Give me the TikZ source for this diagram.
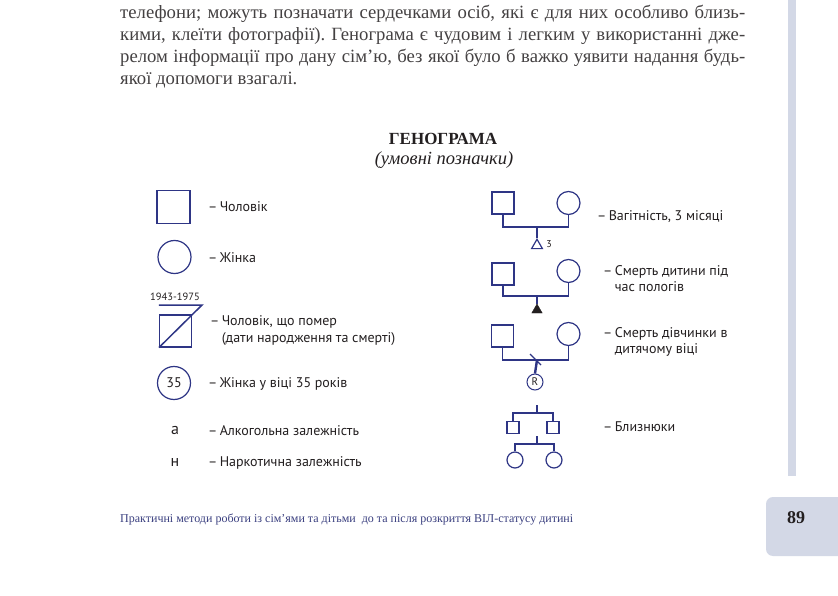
\documentclass[tikz,border=0pt]{standalone}
\usepackage{fontspec}
\setmainfont{Liberation Serif}
\setsansfont{PT Sans}
\usetikzlibrary{shapes.geometric}
\definecolor{navy}{HTML}{2E3585}
\definecolor{barblue}{HTML}{D3D8E6}
\definecolor{ink}{HTML}{231F20}
\definecolor{foot}{HTML}{3B4080}
\frenchspacing

\begin{document}
\begin{tikzpicture}[x=1pt, y=-1pt,
    man/.style={draw=navy, line width=1.2pt, minimum size=#1, inner sep=0pt},
    man/.default=22pt,
    woman/.style={circle, draw=navy, line width=1.2pt, minimum size=#1, inner sep=0pt},
    woman/.default=23pt,
    kin/.style={draw=navy, line width=1.2pt},
    child/.style={draw=navy, line width=2.4pt},
    lbl/.style={anchor=west, inner sep=0pt, text=ink, align=left,
        font=\sffamily\fontsize{14}{16.5}\selectfont},
    body/.style={anchor=west, inner sep=0pt, text=ink!85,
        font=\fontsize{18.7}{22}\selectfont}]
    \useasboundingbox (0,0) rectangle (838,596);
    \fill[white] (0,0) rectangle (838,596);

    % Page decoration
    \fill[barblue] (788,0) rectangle (796,476);
    \fill[barblue, rounded corners=7pt] (766,497) rectangle (860,556);
    \node[font=\bfseries\fontsize{18}{20}\selectfont, text=ink] (page) at (796,518) {89};
    \node[anchor=west, inner sep=0pt, text=foot, font=\fontsize{12}{14}\selectfont] (footer) at (120,519)
        {Практичні методи роботи із сім'ями та дітьми \ до та після розкриття ВІЛ-статусу дитині};

    % Paragraph
    \node[body] (line1) at (120,14) {\makebox[625pt][s]{телефони; можуть позначати сердечками осіб, які є для них особливо близь-}};
    \node[body] (line2) at (120,36) {\makebox[625pt][s]{кими, клеїти фотографії). Генограма є чудовим і легким у використанні дже-}};
    \node[body] (line3) at (120,58) {\makebox[625pt][s]{релом інформації про дану сім'ю, без якої було б важко уявити надання будь-}};
    \node[body] (line4) at (120,80) {якої допомоги взагалі.};

    % Title
    \node[text=ink, font=\bfseries\fontsize{17}{19}\selectfont] (title) at (443,139) {ГЕНОГРАМА};
    \node[text=ink, font=\itshape\fontsize{18.5}{20}\selectfont] (subtitle) at (444,160) {(умовні позначки)};

    % Left column
    \node[man=33pt] (m) at (173.5,207) {};
    \node[lbl] (lm) at (208,207) {–\,Чоловік};
    \node[woman=33pt] (w) at (174.5,257) {};
    \node[lbl] (lw) at (208,258) {–\,Жінка};

    \node[text=ink, font=\sffamily\fontsize{10.5}{11}\selectfont] (dates) at (175,297) {1943-1975};
    \node[man=32pt] (dm) at (175.5,331) {};
    \coordinate (dtop) at (202,305);
    \draw[navy, line width=1.5pt] (dm.west |- dtop) -- (dtop) -- (dm.south west);
    \node[lbl] (ldm) at (210,330.5) {–\,Чоловік, що помер\\\phantom{–\,}(дати народження та смерті)};

    \node[woman=33pt, text=ink, font=\sffamily\fontsize{14}{15}\selectfont] (w35) at (174,383) {35};
    \node[lbl] (lw35) at (208,384) {–\,Жінка у віці 35 років};

    \node[text=ink, font=\sffamily\fontsize{16}{17}\selectfont] (alc) at (175,430) {а};
    \node[lbl] (lalc) at (208,431) {–\,Алкогольна залежність};
    \node[text=ink, font=\sffamily\fontsize{16}{17}\selectfont] (nar) at (175,462) {н};
    \node[lbl] (lnar) at (208,463) {–\,Наркотична залежність};

    % Right column: pregnancy
    \node[man] (m1) at (503,203) {};
    \node[woman] (w1) at (568.5,203) {};
    \coordinate (b1) at (537,227);
    \draw[kin] (m1.south) |- (b1) -| (w1.south);
    \node[regular polygon, regular polygon sides=3, draw=navy, line width=1.2pt,
        minimum size=12.5pt, inner sep=0pt] (p1) at (537,245.5) {};
    \draw[child] (b1) -- (p1.corner 1);
    \node[text=ink, font=\sffamily\fontsize{10}{11}\selectfont] (n3) at (549,244) {3};
    \node[lbl] (l1) at (597,217) {–\,Вагітність, 3 місяці};

    % Right column: death at birth
    \node[man] (m2) at (503,274) {};
    \node[woman] (w2) at (568.5,271) {};
    \coordinate (b2) at (537,296);
    \draw[kin] (m2.south) |- (b2) -| (w2.south);
    \node[regular polygon, regular polygon sides=3, fill=ink, draw=ink,
        minimum size=12pt, inner sep=0pt] (p2) at (537,310) {};
    \draw[child] (b2) -- (p2.corner 1);
    \node[lbl] (l2) at (603,278.5) {–\,Смерть дитини під\\\phantom{–\,}час пологів};

    % Right column: death of a girl
    \node[man] (m3) at (502.5,336) {};
    \node[woman] (w3) at (568.5,334) {};
    \coordinate (b3) at (537,360);
    \draw[kin] (m3.south) |- (b3) -| (w3.south);
    \node[woman=16pt, line width=1pt, text=ink, font=\sffamily\fontsize{11}{12}\selectfont] (r3) at (535,382) {R};
    \draw[child] (b3) -- (r3.north);
    \draw[kin] (b3) ++(-7,-6) -- ++(11,11);
    \node[lbl] (l3) at (603,342) {–\,Смерть дівчинки в\\\phantom{–\,}дитячому віці};

    % Right column: twins
    \coordinate (t1) at (537,413);
    \node[man=12pt] (s1) at (513,427.5) {};
    \node[man=12pt] (s2) at (553,427.5) {};
    \draw[child] (t1) -- ++(0,-8);
    \draw[kin] (s1.north) |- (t1) -| (s2.north);
    \coordinate (t2) at (537,444);
    \node[woman=16pt] (c1) at (515,460) {};
    \node[woman=16pt] (c2) at (554,460) {};
    \draw[child] (t2) -- ++(0,-8);
    \draw[kin] (c1.north) |- (t2) -| (c2.north);
    \node[lbl] (l4) at (603,427) {–\,Близнюки};
\end{tikzpicture}
\end{document}
